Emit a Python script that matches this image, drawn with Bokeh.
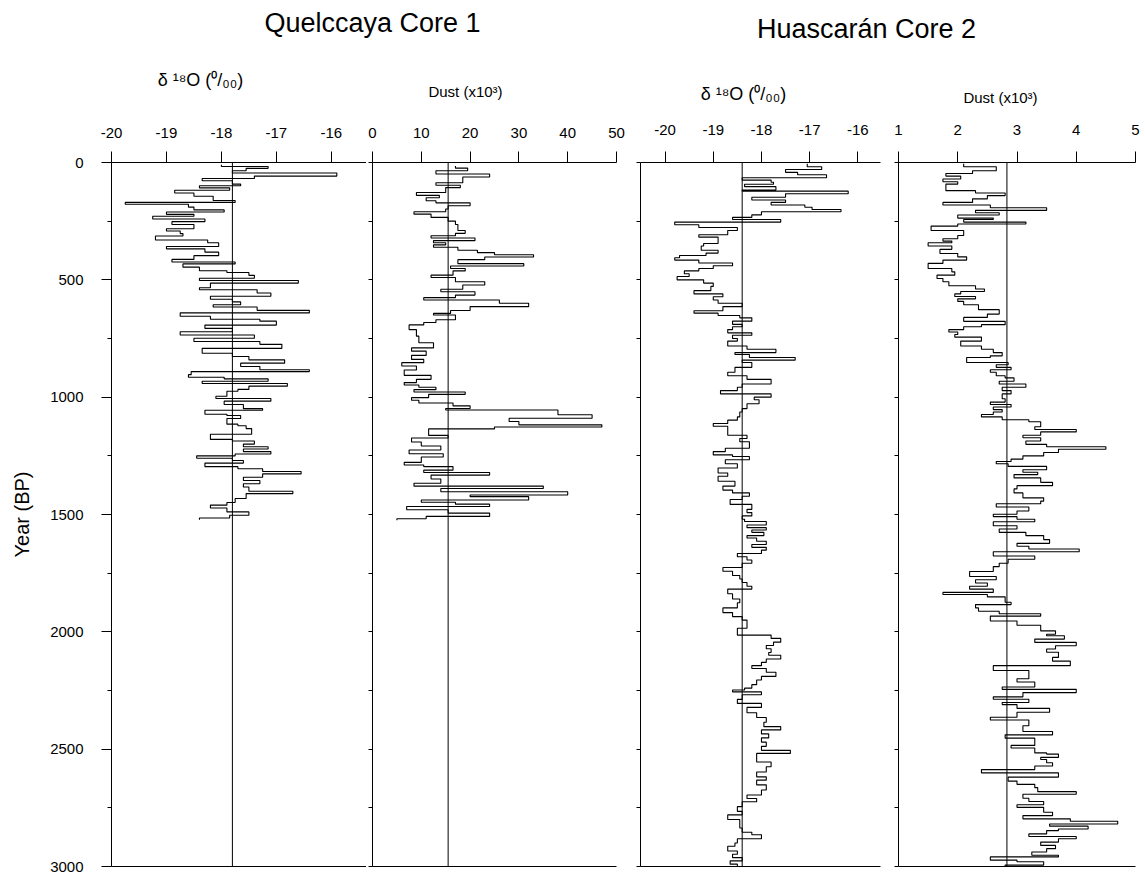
from bokeh.plotting import figure
from bokeh.models import Range1d, LinearAxis, FixedTicker, Span, Label
from bokeh.layouts import row, column
from bokeh.embed import file_html
from bokeh.resources import INLINE

FONT = "Liberation Sans"

# ---------------- data (step series: value holds from its year to the next year) -------------
q_d18o_year = [10, 17, 25, 35, 45, 58, 68, 78, 92, 99, 108, 118, 130, 144, 162, 170, 178, 190, 202, 211,
               221, 229, 241, 252, 264, 282, 292, 303, 313, 330, 342, 358, 368, 382, 397, 413, 424, 432, 446,
               461, 469, 481, 493, 503, 514, 534, 542, 556, 570, 583, 594, 606, 616, 630, 641, 655, 668, 676,
               693, 707, 721, 735, 749, 763, 775, 792, 813, 827, 841, 855, 869, 883, 891, 904, 915, 922, 932,
               942, 953, 967, 975, 996, 1006, 1017, 1031, 1049, 1056, 1073, 1078, 1091, 1115, 1122, 1134, 1158,
               1172, 1180, 1187, 1200, 1211, 1221, 1232, 1242, 1250, 1260, 1270, 1281, 1296, 1305, 1317, 1327,
               1341, 1355, 1369, 1383, 1401, 1411, 1432, 1449, 1460, 1472, 1489, 1503, 1515]
q_d18o_val = [-18.0, -17.15, -17.55, -17.8, -15.9, -17.4, -18.35, -17.8, -17.65, -18.4, -17.85, -18.85, -18.5,
              -18.15, -17.75, -19.75, -18.6, -18.5, -17.95, -19.0, -18.5, -19.25, -18.3, -18.9, -18.5, -19.0,
              -18.75, -18.7, -19.2, -18.25, -18.05, -19.0, -18.3, -18.05, -18.5, -18.9, -17.75, -18.7, -18.4,
              -17.9, -17.5, -17.4, -18.4, -16.6, -18.2, -18.4, -17.35, -17.1, -18.2, -17.8, -17.65, -18.15,
              -17.35, -16.4, -18.75, -18.2, -17.3, -17.0, -18.3, -17.8, -18.75, -17.4, -18.5, -17.3, -16.9,
              -18.35, -17.8, -17.5, -16.85, -17.65, -17.3, -16.4, -18.55, -18.6, -17.95, -17.15, -18.35, -16.8,
              -17.5, -17.7, -17.9, -18.1, -17.1, -17.95, -17.6, -17.25, -18.3, -17.9, -17.65, -17.9, -17.7,
              -17.55, -17.45, -18.2, -18.2, -17.8, -17.4, -17.6, -17.15, -17.6, -17.1, -17.75, -18.45, -17.8,
              -17.6, -18.3, -17.7, -17.25, -16.55, -17.25, -17.6, -17.3, -17.6, -17.5, -16.7, -17.55, -17.75,
              -17.9, -18.2, -17.9, -17.5, -17.85, -18.4]
q_d18o_end = 1522
q_d18o_mean = -17.8

q_dust_year = [15, 24, 35, 49, 62, 86, 97, 107, 128, 140, 150, 163, 172, 184, 198, 210, 220, 234, 250, 264,
               290, 302, 312, 322, 333, 342, 351, 361, 374, 384, 393, 403, 414, 431, 441, 452, 462, 480, 490,
               508, 522, 540, 551, 565, 576, 586, 600, 614, 631, 643, 650, 670, 682, 692, 712, 740, 768, 790,
               804, 822, 839, 853, 867, 884, 907, 924, 938, 948, 958, 968, 978, 988, 1002, 1013, 1025, 1037,
               1048, 1055, 1075, 1090, 1104, 1118, 1127, 1135, 1163, 1174, 1191, 1208, 1225, 1241, 1255, 1278,
               1289, 1296, 1311, 1321, 1332, 1349, 1367, 1379, 1389, 1403, 1417, 1424, 1438, 1448, 1456, 1466,
               1480, 1494, 1508, 1518]
q_dust_val = [17.0, 19.5, 13.0, 24.0, 18.5, 13.0, 18.0, 15.0, 9.0, 13.7, 11.0, 13.0, 20.0, 15.5, 15.0, 8.5,
              12.0, 15.5, 17.0, 17.5, 19.0, 17.0, 12.0, 21.0, 12.5, 15.0, 12.5, 17.5, 21.5, 25.0, 33.0, 23.0,
              17.5, 31.0, 16.0, 19.0, 16.5, 12.0, 17.0, 23.0, 18.5, 14.0, 21.0, 17.0, 10.5, 26.0, 32.0, 20.0,
              16.0, 12.5, 17.0, 13.0, 10.5, 7.5, 9.0, 9.5, 12.5, 8.0, 11.0, 8.0, 10.5, 6.0, 9.0, 6.5, 12.0, 9.0,
              6.5, 9.5, 13.0, 8.5, 19.0, 11.5, 8.0, 9.5, 16.5, 20.0, 15.0, 38.0, 45.0, 28.0, 30.0, 47.0, 25.0,
              11.5, 15.5, 8.0, 10.0, 14.0, 7.5, 14.5, 10.0, 6.5, 10.5, 16.5, 10.5, 24.0, 12.0, 14.0, 8.5, 35.0,
              14.0, 40.0, 20.0, 32.0, 10.0, 17.0, 24.0, 7.0, 15.5, 24.0, 11.0, 5.0]
q_dust_end = 1525
q_dust_mean = 15.5

h_d18o_year = [5, 18, 30, 42, 52, 65, 75, 84, 93, 103, 117, 122, 133, 148, 160, 170, 181, 191, 200, 210, 223,
               234, 243, 254, 265, 277, 290, 308, 318, 345, 356, 374, 386, 396, 406, 416, 428, 440, 452, 462,
               474, 486, 500, 514, 528, 546, 560, 572, 586, 600, 614, 632, 642, 652, 662, 676, 690, 700, 712,
               726, 736, 750, 761, 782, 796, 810, 818, 831, 842, 852, 873, 894, 909, 924, 944, 958, 972, 986,
               1000, 1011, 1028, 1049, 1063, 1084, 1098, 1112, 1124, 1140, 1162, 1176, 1190, 1218, 1232, 1246,
               1253, 1267, 1284, 1302, 1323, 1337, 1358, 1379, 1396, 1408, 1422, 1436, 1457, 1478, 1492, 1506,
               1520, 1530, 1545, 1556, 1566, 1576, 1590, 1600, 1614, 1628, 1640, 1652, 1666, 1680, 1694, 1708,
               1726, 1742, 1760, 1775, 1790, 1806, 1818, 1838, 1860, 1876, 1898, 1918, 1935, 1950, 1965, 1985,
               2000, 2014, 2028, 2044, 2058, 2072, 2088, 2100, 2116, 2130, 2144, 2156, 2172, 2190, 2205, 2225,
               2240, 2248, 2256, 2268, 2288, 2305, 2322, 2345, 2365, 2385, 2404, 2418, 2435, 2452, 2470, 2488,
               2505, 2518, 2535, 2555, 2575, 2597, 2618, 2632, 2652, 2674, 2695, 2710, 2724, 2745, 2765, 2780,
               2800, 2818, 2836, 2854, 2865, 2882, 2900, 2914, 2934, 2948, 2962, 2976, 2990]
h_d18o_val = [-17.05, -16.75, -17.5, -17.25, -16.65, -18.4, -17.8, -17.75, -18.35, -17.7, -18.4, -16.2, -17.5,
              -18.2, -17.5, -17.8, -17.1, -16.95, -16.35, -18.0, -18.2, -18.6, -17.6, -19.8, -19.3, -18.5,
              -18.7, -19.3, -18.9, -19.2, -19.25, -18.9, -19.15, -19.7, -19.8, -19.3, -18.6, -19.0, -19.3,
              -19.6, -19.5, -19.75, -19.2, -19.0, -19.05, -19.4, -18.8, -19.0, -18.9, -18.4, -18.8, -19.4,
              -18.9, -18.45, -18.2, -18.6, -18.4, -18.6, -18.7, -18.2, -18.6, -18.5, -18.7, -18.3, -17.7,
              -18.55, -18.25, -17.3, -18.4, -18.2, -18.55, -18.7, -18.3, -17.8, -18.4, -18.5, -18.85, -17.8,
              -18.15, -18.05, -18.3, -18.4, -18.45, -18.5, -18.7, -19.0, -18.7, -18.7, -18.3, -18.45, -18.25,
              -18.75, -19.0, -18.6, -18.25, -18.75, -18.5, -18.9, -18.7, -18.9, -18.55, -18.8, -18.6, -18.25,
              -18.4, -18.65, -18.2, -18.3, -18.2, -18.4, -18.35, -17.9, -18.3, -17.9, -18.2, -17.95, -18.3,
              -18.1, -17.9, -18.2, -17.9, -18.0, -18.5, -18.3, -18.2, -18.4, -18.8, -18.6, -18.45, -18.4,
              -18.3, -18.2, -18.7, -18.6, -18.45, -18.5, -18.8, -18.6, -18.4, -18.3, -18.3, -18.5, -18.5,
              -17.8, -17.6, -17.75, -17.9, -17.8, -17.85, -17.6, -17.9, -18.0, -18.2, -17.9, -17.7, -18.0,
              -18.1, -18.2, -18.35, -18.6, -18.0, -18.4, -18.5, -18.0, -18.3, -18.1, -17.9, -17.95, -17.6,
              -18.0, -17.85, -18.0, -17.9, -18.0, -17.4, -18.1, -18.1, -17.8, -17.9, -18.1, -17.9, -18.1,
              -17.9, -18.0, -18.3, -18.1, -18.4, -18.5, -18.4, -18.7, -18.45, -18.45, -18.4, -18.2, -18.0,
              -18.5, -18.55, -18.7, -18.5, -18.6, -18.4, -18.65, -18.5]
h_d18o_end = 3005
h_d18o_mean = -18.4

h_dust_year = [5, 18, 35, 47, 58, 70, 82, 92, 106, 120, 130, 141, 155, 170, 181, 193, 204, 214, 224, 237, 243,
               254, 262, 271, 290, 311, 325, 335, 342, 356, 370, 388, 402, 416, 430, 452, 466, 480, 494, 508,
               525, 539, 550, 560, 571, 581, 592, 606, 627, 646, 660, 677, 691, 700, 712, 722, 733, 744, 761,
               782, 796, 810, 824, 831, 852, 862, 873, 883, 894, 909, 918, 932, 944, 958, 972, 986, 1007, 1021,
               1031, 1042, 1053, 1063, 1074, 1084, 1096, 1105, 1126, 1138, 1148, 1162, 1173, 1187, 1201, 1211,
               1222, 1236, 1250, 1264, 1274, 1284, 1295, 1309, 1320, 1330, 1344, 1363, 1377, 1391, 1408, 1429,
               1443, 1454, 1468, 1485, 1499, 1509, 1520, 1531, 1548, 1562, 1576, 1590, 1607, 1623, 1635, 1647,
               1659, 1677, 1691, 1708, 1722, 1743, 1764, 1778, 1792, 1806, 1818, 1832, 1841, 1851, 1874, 1884,
               1898, 1912, 1923, 1933, 1954, 1972, 1996, 2010, 2017, 2031, 2045, 2059, 2073, 2087, 2109, 2125,
               2144, 2165, 2179, 2200, 2214, 2235, 2245, 2259, 2277, 2287, 2301, 2310, 2326, 2343, 2364, 2376,
               2390, 2400, 2425, 2439, 2453, 2467, 2484, 2495, 2516, 2521, 2535, 2544, 2558, 2572, 2587, 2601,
               2619, 2636, 2650, 2664, 2681, 2692, 2709, 2723, 2737, 2748, 2769, 2783, 2797, 2807, 2819, 2828,
               2840, 2847, 2861, 2872, 2882, 2896, 2910, 2924, 2938, 2952, 2959, 2973, 2980, 2994]
h_dust_val = [2.1, 2.65, 2.25, 1.8, 2.05, 1.75, 2.0, 1.8, 1.8, 2.3, 2.8, 2.5, 2.25, 1.75, 2.55, 3.5, 2.3, 2.7,
              2.0, 2.6, 2.1, 3.15, 2.0, 1.55, 2.1, 2.0, 1.75, 1.9, 1.5, 1.9, 1.7, 2.0, 2.15, 1.75, 1.5, 1.9, 1.95,
              1.65, 1.75, 1.85, 2.3, 2.45, 2.05, 1.95, 2.3, 2.0, 2.1, 2.35, 2.7, 2.5, 2.1, 2.8, 2.4, 2.1, 1.85,
              2.0, 1.95, 2.4, 2.05, 2.4, 2.6, 2.75, 2.55, 2.15, 2.85, 2.65, 2.9, 2.55, 2.65, 2.8, 2.95, 2.7, 3.15,
              2.75, 2.9, 2.75, 2.8, 2.55, 2.9, 2.6, 2.75, 2.6, 2.4, 2.75, 3.2, 3.4, 3.3, 4.0, 3.4, 3.1, 3.4, 3.15,
              3.5, 4.5, 3.7, 3.45, 3.1, 2.9, 2.65, 2.85, 3.5, 3.1, 3.35, 2.95, 3.4, 3.6, 3.0, 2.95, 3.1, 3.45,
              3.4, 2.65, 3.2, 3.0, 2.6, 3.0, 3.3, 2.6, 3.0, 2.7, 3.15, 3.45, 3.55, 3.0, 3.2, 4.05, 2.6, 3.3,
              2.85, 2.7, 2.6, 2.2, 2.65, 2.3, 2.5, 2.2, 2.6, 1.75, 2.5, 2.8, 2.9, 2.3, 2.35, 2.7, 3.4, 2.55, 3.0,
              3.4, 3.65, 3.5, 3.8, 3.3, 4.0, 3.65, 3.5, 3.7, 3.6, 3.9, 2.6, 3.2, 3.2, 3.0, 3.3, 2.75, 4.0, 3.1,
              2.6, 3.2, 2.75, 3.0, 3.55, 3.0, 2.55, 3.2, 3.2, 3.1, 3.6, 2.8, 3.3, 3.3, 2.9, 3.3, 3.5, 3.7, 3.4,
              3.5, 3.6, 3.3, 2.4, 3.7, 2.85, 3.0, 3.3, 3.35, 4.0, 3.1, 3.2, 3.45, 3.0, 3.45, 3.6, 3.1, 3.9, 4.7,
              3.55, 4.2, 3.7, 3.5, 3.2, 4.0, 3.7, 3.4, 3.65, 3.5, 3.25, 3.7, 2.55, 3.0, 3.45, 2.8]
h_dust_end = 3005
h_dust_mean = 2.83

year_ticks = [0, 500, 1000, 1500, 2000, 2500, 3000]
year_minor = [250, 750, 1250, 1750, 2250, 2750]
q_d18o_ticks = [-20, -19, -18, -17, -16]
q_dust_ticks = [0, 10, 20, 30, 40, 50]
h_d18o_ticks = [-20, -19, -18, -17, -16]
h_dust_ticks = [1, 2, 3, 4, 5]

core_titles = ["Quelccaya Core 1", "Huascar\u00e1n Core 2"]
D18O_LABEL = "\u03b4 \u00b9\u2078O (\u2070/\u2080\u2080)"
DUST_LABEL = "Dust (x10\u00b3)"

HEAD = 110          # header row (core titles and variable titles)
PH = 878 - HEAD     # panel height


def step_path(years, vals, end):
    xs, ys = [], []
    nxt = list(years[1:]) + [end]
    for v, y0, y1 in zip(vals, years, nxt):
        xs += [v, v]
        ys += [y0, y1]
    return xs, ys


def tick_text(t):
    return ("-" if t < 0 else "") + str(abs(t))


def make_panel(xr, width, bl, br, bt, bb, ticks, years, vals, end, mean, label_std, first=False):
    p = figure(width=width, height=PH, x_range=Range1d(*xr), y_range=Range1d(3000, 0),
               x_axis_type=None, y_axis_type=None, toolbar_location=None, output_backend="svg",
               title=None, min_border_left=bl, min_border_right=br, min_border_top=bt,
               min_border_bottom=bb, outline_line_color=None, background_fill_color="white",
               border_fill_color="white")
    top = LinearAxis(ticker=FixedTicker(ticks=ticks), major_tick_out=11, major_tick_in=0,
                     minor_tick_out=0, minor_tick_in=0, major_label_standoff=label_std,
                     major_label_overrides={t: tick_text(t) for t in ticks},
                     major_label_text_font=FONT, major_label_text_font_size="15px",
                     major_label_text_color="black", axis_line_color="black",
                     major_tick_line_color="black")
    p.add_layout(top, "above")
    if first:
        left = LinearAxis(ticker=FixedTicker(ticks=year_ticks, minor_ticks=year_minor),
                          major_tick_out=10, major_tick_in=0, minor_tick_out=4, minor_tick_in=0,
                          major_label_standoff=18, major_label_text_font=FONT,
                          major_label_text_font_size="15px", major_label_text_color="black",
                          axis_label="Year (BP)", axis_label_text_color="black",
                          axis_label_text_font=FONT, axis_label_text_font_size="20px",
                          axis_label_text_font_style="normal", axis_label_standoff=14,
                          axis_line_color="black", major_tick_line_color="black",
                          minor_tick_line_color="black")
    else:
        left = LinearAxis(ticker=FixedTicker(ticks=[], minor_ticks=year_ticks + year_minor),
                          major_tick_out=0, major_tick_in=0, minor_tick_out=4, minor_tick_in=0,
                          major_label_standoff=0, axis_line_color="black",
                          minor_tick_line_color="black")
    p.add_layout(left, "left")
    bottom = LinearAxis(ticker=FixedTicker(ticks=[]), major_tick_out=0, major_tick_in=0,
                        minor_tick_out=0, minor_tick_in=0, major_label_standoff=0,
                        axis_line_color="black")
    p.add_layout(bottom, "below")

    p.add_layout(Span(location=mean, dimension="height", line_color="black", line_width=1))
    xs, ys = step_path(years, vals, end)
    p.line(xs, ys, line_color="black", line_width=1.1)
    return p


# frames: Quelccaya y 157..866, Huascaran y 162..873 (page pixels)
p1 = make_panel((-20.0, -15.36), 366, 111, 0, 157 - HEAD, 12, q_d18o_ticks, q_d18o_year,
                q_d18o_val, q_d18o_end, q_d18o_mean, 14, first=True)
p2 = make_panel((0, 50), 266, 6, 16, 157 - HEAD, 12, q_dust_ticks, q_dust_year, q_dust_val,
                q_dust_end, q_dust_mean, 14)
p3 = make_panel((-20.51, -15.53), 258, 8, 10, 162 - HEAD, 5, h_d18o_ticks, h_d18o_year,
                h_d18o_val, h_d18o_end, h_d18o_mean, 17)
p4 = make_panel((1, 5), 255, 8, 10, 162 - HEAD, 5, h_dust_ticks, h_dust_year, h_dust_val,
                h_dust_end, h_dust_mean, 17)

header = figure(width=1145, height=HEAD, x_range=Range1d(0, 1145), y_range=Range1d(HEAD, 0),
                x_axis_type=None, y_axis_type=None, toolbar_location=None, output_backend="svg",
                title=None, min_border=0, outline_line_color=None)


def head_label(x, y, text, size):
    header.add_layout(Label(x=x, y=y, text=text, text_align="center", text_baseline="middle",
                            text_font=FONT, text_font_size=size, text_color="black"))


head_label(372, 22, core_titles[0], "27px")
head_label(866, 28, core_titles[1], "27px")
head_label(200, 79, D18O_LABEL, "18px")
head_label(465, 91, DUST_LABEL, "15px")
head_label(743, 93, D18O_LABEL, "18px")
head_label(1000, 97, DUST_LABEL, "15px")

layout = column(header, row(p1, p2, p3, p4, spacing=0), spacing=0)
open("out.html", "w").write(file_html(layout, INLINE))
